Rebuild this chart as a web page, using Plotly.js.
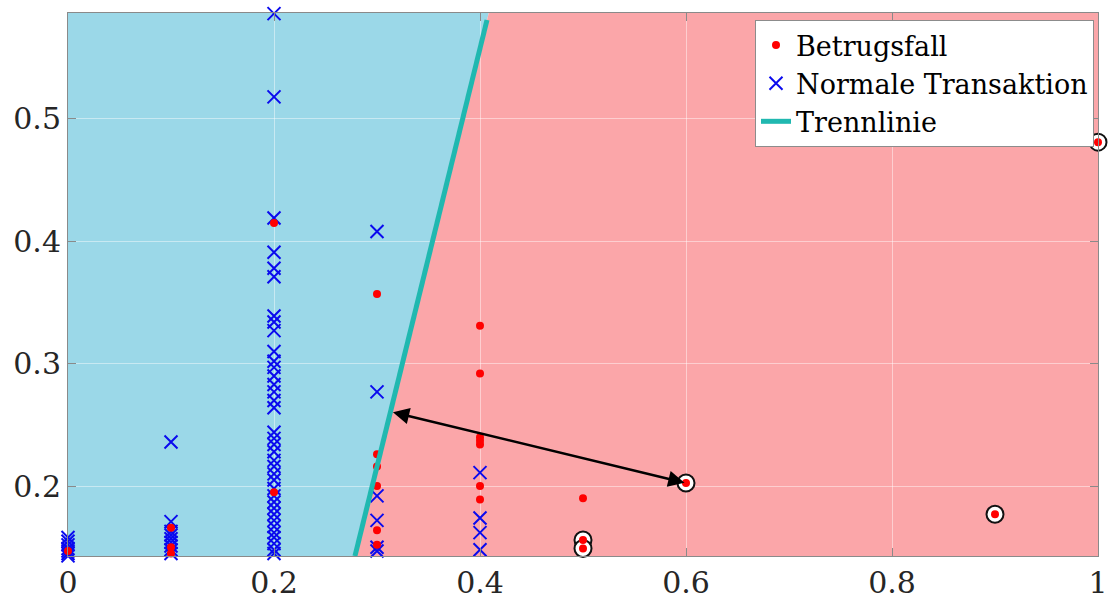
<!DOCTYPE html>
<html>
<head>
<meta charset="utf-8">
<script src="https://cdn.plot.ly/plotly-3.0.1.min.js"></script>
<style>html,body{margin:0;padding:0;background:#fff;}#chart{width:1113px;height:605px;}</style>
</head>
<body>
<div id="chart"></div>
<script>
// ---- data ----
const fraudX = [0, 0.1, 0.1, 0.1, 0.2, 0.2, 0.3, 0.3, 0.3, 0.3, 0.3, 0.3,
                0.4, 0.4, 0.4, 0.4, 0.4, 0.4, 0.4, 0.5, 0.5, 0.5, 0.6, 0.9, 1.0];
const fraudY = [0.147, 0.166, 0.150, 0.145, 0.415, 0.195, 0.357, 0.226, 0.216, 0.200, 0.164, 0.152,
                0.331, 0.292, 0.240, 0.237, 0.234, 0.200, 0.189, 0.190, 0.156, 0.149, 0.2025, 0.177, 0.481];

const normalX = [0, 0, 0, 0, 0, 0, 0,
  0.1, 0.1, 0.1, 0.1, 0.1, 0.1, 0.1, 0.1, 0.1,
  0.2, 0.2, 0.2, 0.2, 0.2, 0.2, 0.2, 0.2, 0.2, 0.2, 0.2, 0.2, 0.2, 0.2, 0.2, 0.2, 0.2, 0.2, 0.2,
  0.2, 0.2, 0.2, 0.2, 0.2, 0.2, 0.2, 0.2, 0.2, 0.2, 0.2, 0.2, 0.2, 0.2, 0.2, 0.2, 0.2, 0.2,
  0.3, 0.3, 0.3, 0.3, 0.3, 0.3,
  0.4, 0.4, 0.4, 0.4];
const normalY = [0.158, 0.155, 0.152, 0.149, 0.147, 0.145, 0.143,
  0.236, 0.171, 0.163, 0.160, 0.157, 0.154, 0.151, 0.148, 0.145,
  0.586, 0.518, 0.419, 0.391, 0.378, 0.371, 0.339, 0.334, 0.327, 0.310, 0.302, 0.297, 0.290, 0.283, 0.277, 0.270, 0.264, 0.244, 0.239,
  0.234, 0.228, 0.221, 0.216, 0.210, 0.205, 0.198, 0.192, 0.187, 0.182, 0.177, 0.172, 0.167, 0.162, 0.158, 0.153, 0.148, 0.145,
  0.408, 0.277, 0.192, 0.172, 0.150, 0.147,
  0.211, 0.174, 0.162, 0.148];

const circledX = [0.5, 0.5, 0.6, 0.9, 1.0];
const circledY = [0.156, 0.149, 0.2025, 0.177, 0.481];

const lineX = [0.2786, 0.4068];
const lineY = [0.1429, 0.5808];

const arrowFrom = [0.6, 0.2025];
const arrowTo = [0.3155, 0.2604];

const xRange = [0, 1];
const yRange = [0.1429, 0.5865];
const xTicks = [0, 0.2, 0.4, 0.6, 0.8, 1];
const xTickText = ['0', '0.2', '0.4', '0.6', '0.8', '1'];
const yTicks = [0.2, 0.3, 0.4, 0.5];
const yTickText = ['0.2', '0.3', '0.4', '0.5'];

const labels = ['Betrugsfall', 'Normale Transaktion', 'Trennlinie'];

// ---- geometry of regions derived from line ----
const slope = (lineX[1] - lineX[0]) / (lineY[1] - lineY[0]);
const xAtBottom = lineX[0] + slope * (yRange[0] - lineY[0]);
const xAtTop = lineX[0] + slope * (yRange[1] - lineY[0]);

const bluePath = `M ${xRange[0]} ${yRange[0]} L ${xAtBottom} ${yRange[0]} L ${xAtTop} ${yRange[1]} L ${xRange[0]} ${yRange[1]} Z`;
const redPath = `M ${xAtBottom} ${yRange[0]} L ${xRange[1]} ${yRange[0]} L ${xRange[1]} ${yRange[1]} L ${xAtTop} ${yRange[1]} Z`;

const FONT = 'DejaVu Serif, Liberation Serif, serif';

const traces = [
  {
    x: normalX, y: normalY, type: 'scatter', mode: 'markers', name: labels[1],
    legendrank: 2, cliponaxis: false,
    marker: {symbol: 'x-thin', size: 13, color: '#0000ff', line: {color: '#0a0aee', width: 2}}
  },
  {
    x: circledX, y: circledY, type: 'scatter', mode: 'markers', showlegend: false,
    cliponaxis: false, hoverinfo: 'skip',
    marker: {symbol: 'circle', size: 17, color: '#ffffff', line: {color: '#111111', width: 2}}
  },
  {
    x: fraudX, y: fraudY, type: 'scatter', mode: 'markers', name: labels[0],
    legendrank: 1, cliponaxis: false,
    marker: {symbol: 'circle', size: 8, color: '#ff0000'}
  },
  {
    x: lineX, y: lineY, type: 'scatter', mode: 'lines', name: labels[2],
    legendrank: 3, cliponaxis: false,
    line: {color: '#20b8b0', width: 5}
  }
];

const layout = {
  width: 1113, height: 605,
  margin: {l: 68, r: 15, t: 13, b: 49, autoexpand: false},
  paper_bgcolor: '#ffffff',
  plot_bgcolor: '#ffffff',
  font: {family: FONT, color: '#262626', size: 28},
  showlegend: true,
  legend: {
    x: 0.667, y: 0.987, xanchor: 'left', yanchor: 'top',
    bgcolor: '#ffffff', bordercolor: '#8c8c8c', borderwidth: 1,
    font: {family: FONT, size: 27, color: '#000000'},
    tracegroupgap: 0, itemwidth: 30
  },
  xaxis: {
    range: xRange, tickvals: xTicks, ticktext: xTickText, automargin: false,
    showgrid: true, gridcolor: 'rgba(255,255,255,0.45)', gridwidth: 1,
    zeroline: false, showline: true, linecolor: '#8a8a8a', linewidth: 1, mirror: 'ticks',
    ticks: 'inside', ticklen: 8, tickcolor: '#8a8a8a',
    tickfont: {family: FONT, size: 30, color: '#262626'}
  },
  yaxis: {
    range: yRange, tickvals: yTicks, ticktext: yTickText, automargin: false,
    showgrid: true, gridcolor: 'rgba(255,255,255,0.45)', gridwidth: 1,
    zeroline: false, showline: true, linecolor: '#8a8a8a', linewidth: 1, mirror: 'ticks',
    ticks: 'inside', ticklen: 8, tickcolor: '#8a8a8a',
    tickfont: {family: FONT, size: 30, color: '#262626'}
  },
  shapes: [
    {type: 'path', path: bluePath, xref: 'x', yref: 'y', fillcolor: '#9bd8e8', line: {width: 0}, layer: 'below'},
    {type: 'path', path: redPath, xref: 'x', yref: 'y', fillcolor: '#fba6a9', line: {width: 0}, layer: 'below'}
  ],
  annotations: [
    {
      x: arrowTo[0], y: arrowTo[1], xref: 'x', yref: 'y',
      ax: arrowFrom[0], ay: arrowFrom[1], axref: 'x', ayref: 'y',
      showarrow: true, arrowhead: 2, arrowsize: 1.3, arrowwidth: 2.5, arrowcolor: '#000000',
      arrowside: 'end+start', startarrowhead: 2, startarrowsize: 1.3, text: ''
    }
  ]
};

Plotly.newPlot('chart', traces, layout, {displayModeBar: false, staticPlot: true});
</script>
</body>
</html>
